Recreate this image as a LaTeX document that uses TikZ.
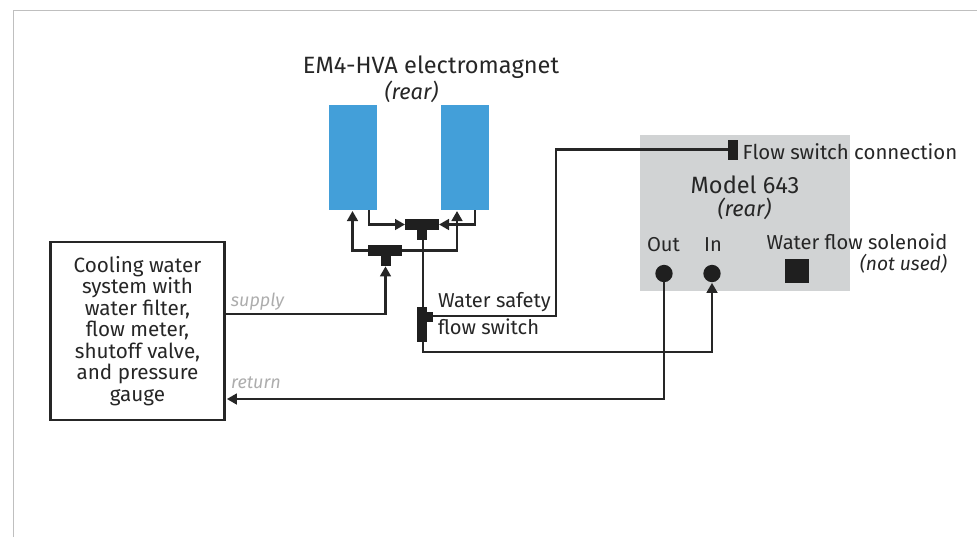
\documentclass[tikz,border=0pt]{standalone}
\usepackage{fontspec}
\setmainfont{Fira Sans}
\usetikzlibrary{positioning,arrows.meta}

\begin{document}
\begin{tikzpicture}[
        x=0.75pt, y=-0.75pt,
        node distance=3pt and 3.5pt,
        every node/.style={inner sep=0pt, outer sep=0pt, align=center, text=black!85, font=\fontsize{15.1}{17}\selectfont},
        block/.style={fill=black!88, minimum width=#1},
        coil/.style={fill=magnet, minimum width=36pt, minimum height=79pt},
        port/.style={circle, fill=black!88, minimum size=13pt},
        title/.style={font=\fontsize{17.7}{20}\selectfont},
        titlenote/.style={font=\fontsize{16.4}{18}\selectfont\itshape},
        note/.style={font=\fontsize{14.4}{16}\selectfont\itshape},
        faint/.style={font=\fontsize{13.5}{15}\selectfont\itshape, text=black!32},
        pipe/.style={draw=black!85, line width=1.8pt},
        flow/.style={pipe, -{Triangle[length=7.5pt,width=8pt]}}
    ]
    \definecolor{magnet}{HTML}{439FD9}
    \definecolor{panel}{HTML}{D1D3D4}
    \useasboundingbox (0,0) rectangle (977,537);

    % Frame
    \draw[black!25, line width=0.7pt] (13,537) -- (13,10) -- (977,10);

    % Nodes
    \node[coil] (coila) at (353,157.5) {};
    \node[coil] (coilb) at (465,157.5) {};
    \node[title] (em) at (431,67) {EM4-HVA electromagnet};
    \node[titlenote] (emrear) at (411.5,91.5) {(rear)};

    \node[draw=black!85, line width=2.2pt, minimum width=130pt, minimum height=133.5pt, font=\fontsize{15.5}{16.1}\selectfont] (cool) at (137.5,331) {Cooling water\\ system with\\ water filter,\\ flow meter,\\ shutoff valve,\\ and pressure\\ gauge};
    \node[faint] (supply) at (257.5,302) {supply};
    \node[faint] (return) at (256,382.5) {return};

    \node[fill=panel, minimum width=157.5pt, minimum height=117pt] (model) at (745,213) {};
    \node[title] (modelname) at (745,184.5) {Model 643};
    \node[titlenote] (modelrear) at (744.5,208.5) {(rear)};
    \node[block=7.5pt, minimum height=15pt] (fsconn) at (733,150) {};
    \node[right=3.5pt of fsconn, yshift=-1.2pt, font=\fontsize{15.3}{17}\selectfont] (fslabel) {Flow switch connection};
    \node[port] (out) at (664,273.5) {};
    \node[port] (in) at (712,273.5) {};
    \node (outlabel) at (663.5,245) {Out};
    \node (inlabel) at (713,245) {In};
    \node[block=18pt, minimum height=18pt] (solenoid) at (797,271) {};
    \node (sollabel) at (857,241.5) {Water flow solenoid};
    \node[note, anchor=east] (solnote) at (947,263.5) {(not used)};

    % T pieces and switch
    \node[block=25.5pt, minimum height=8.5pt] (teeb) at (422,224.5) {};
    \node[block=7.5pt, minimum height=8pt] (teebs) at (422,235) {};
    \node[block=25.5pt, minimum height=8.5pt] (teea) at (385,250.5) {};
    \node[block=7.5pt, minimum height=8pt] (teeas) at (385.5,261) {};
    \node[block=7.5pt, minimum height=26.5pt] (sw) at (422,324.5) {};
    \node[block=5pt, minimum height=7.5pt] (swb) at (430,317) {};
    \node[anchor=west] (swa) at (438,302.5) {Water safety};
    \node[anchor=west] (swc) at (438,326.5) {flow switch};

    % Edges
    \coordinate (ca) at (352.5,211);
    \coordinate (cb) at (457,211);
    \coordinate (da) at (369,210);
    \coordinate (db) at (475,210);
    \coordinate (swin) at (423,307);
    \coordinate (swout) at (423,342);

    \draw[flow] (teea.west) -| (ca);
    \draw[flow] (teea.east) -| (cb);
    \draw[flow] (da) |- (teeb.west);
    \draw[flow] (db) |- (teeb.east);
    \draw[pipe] (teebs.south -| swin) -- (swin);
    \draw[flow] (cool.east |- 0,314) -| (teeas.south);
    \draw[flow] (swout) |- (712,352) -- ([yshift=-0.5pt]in.south);
    \draw[flow] (out.south) |- ([xshift=2pt]cool.east |- 0,399);
    \draw[pipe] (swb.east |- 0,316) -| (556,149.5) -- (fsconn.west |- 0,149.5);

\end{tikzpicture}
\end{document}
